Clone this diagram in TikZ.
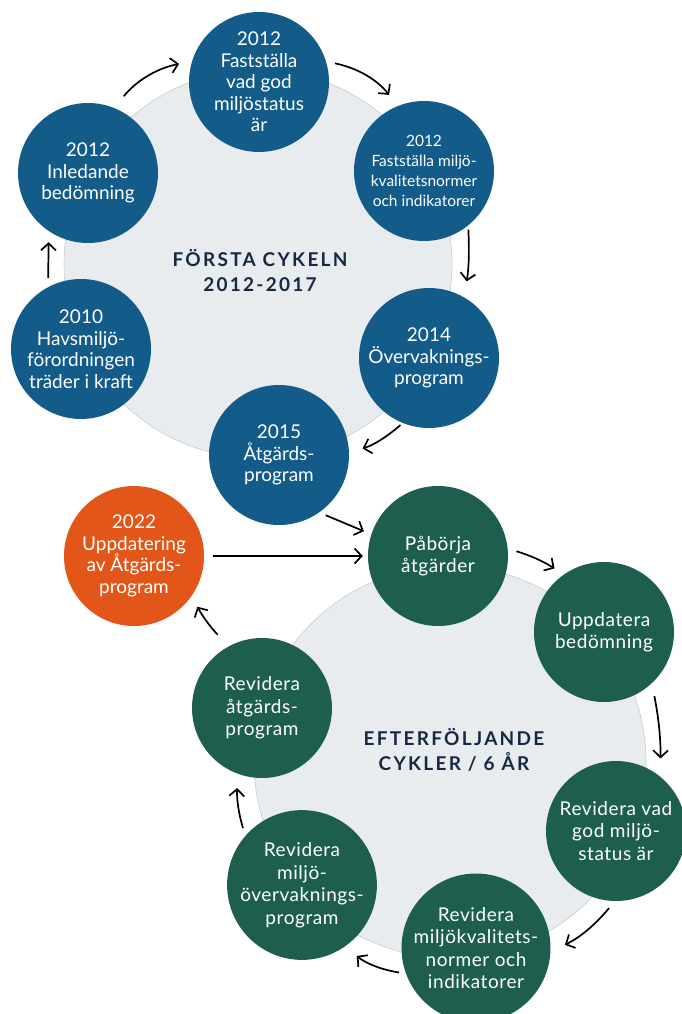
\documentclass[tikz,border=0pt]{standalone}
\usepackage{fontspec}
\setmainfont{Lato}
\usepackage{tikz}
\usetikzlibrary{
    arrows.meta,
    positioning
}
\definecolor{stageblue}{RGB}{19,91,137}
\definecolor{stagegreen}{RGB}{30,94,78}
\definecolor{stageorange}{RGB}{226,86,26}
\definecolor{discgray}{RGB}{233,236,238}
\definecolor{discline}{RGB}{200,204,207}
\definecolor{titlenavy}{RGB}{22,40,66}
\tikzset{
    line/.style = {
        line width = 1.7pt,
        -{Straight Barb[length=7pt, width=15pt]},
        shorten < = 9pt,
        shorten > = 11pt
    },
    % Grey disc behind a cycle:
    cycle disc/.style = {
        fill = discgray,
        draw = discline,
        line width = 0.6pt
    },
    % Stage of a cycle:
    stage node/.style = {
        circle,
        minimum size = 140pt,
        inner sep = 0pt,
        align = center,
        text = white,
        font = \fontsize{19}{21.5}\selectfont
    },
    % First cycle:
    first stage/.style = {
        stage node,
        fill = stageblue
    },
    % Following cycles:
    next stage/.style = {
        stage node,
        fill = stagegreen,
        font = \fontsize{19}{22.5}\selectfont\addfontfeatures{LetterSpace=3}
    },
    % Update:
    update stage/.style = {
        stage node,
        fill = stageorange
    },
    cycle title/.style = {
        align = center,
        text = titlenavy,
        font = \fontsize{19}{25}\selectfont\bfseries\addfontfeatures{LetterSpace=12}
    }
}

\begin{document}
\begin{tikzpicture}[x=1pt, y=1pt]
    \useasboundingbox (0, 0) rectangle (681, -1014);
    \filldraw [cycle disc] (258, -264) circle [radius=194pt];
    \filldraw [cycle disc] (450, -762) circle [radius=196pt];
    \node [cycle title] (first title) at (260, -271) {FÖRSTA CYKELN\\2012-2017};
    \node [cycle title] (next title) at (454, -750) {EFTERFÖLJANDE\\CYKLER / 6 ÅR};

    \node [first stage] (havsmiljo) at (81, -349) {2010\\Havsmiljö-\\förordningen\\träder i kraft};
    \node [first stage] (inledande) at (88, -173) {2012\\Inledande\\bedömning};
    \node [first stage] (godstatus) at (259, -82) {2012\\Fastställa\\vad god\\miljöstatus\\är};
    \node [first stage, font=\fontsize{15.5}{20}\selectfont] (normer) at (424, -171) {2012\\Fastställa miljö-\\kvalitetsnormer\\och indikatorer};
    \node [first stage] (overvakning) at (429, -358) {2014\\Övervaknings-\\program};
    \node [first stage] (atgard) at (279, -455) {2015\\Åtgärds-\\program};

    \node [update stage] (uppdatering) at (134, -556) {2022\\Uppdatering\\av Åtgärds-\\program};
    \node [next stage] (paborja) at (438, -556) {Påbörja\\åtgärder};
    \node [next stage] (bedomning) at (604, -632) {Uppdatera\\bedömning};
    \node [next stage] (revstatus) at (616, -831) {Revidera vad\\god miljö-\\status är};
    \node [next stage] (revnormer) at (476, -948) {Revidera\\miljökvalitets-\\normer och\\indikatorer};
    \node [next stage] (revmiljo) at (302, -885) {Revidera\\miljö-\\övervaknings-\\program};
    \node [next stage] (revatgard) at (262, -708) {Revidera\\åtgärds-\\program};

    \draw [line] (havsmiljo.118) -- (inledande.236);
    \draw [line, shorten <=15pt, shorten >=13pt] (inledande.68) to [bend left=20] (godstatus.163);
    \draw [line, shorten >=14pt] (godstatus.17) to [bend left=20] (normer.112);
    \draw [line, shorten <=4pt, shorten >=16pt] (normer.-51) to [bend left=6] (overvakning.60);
    \draw [line, shorten <=3pt, shorten >=14pt] (overvakning.248) to [bend left=12] (atgard.2);
    \draw [line, shorten <=7pt, shorten >=8pt] (atgard.-55) -- (paborja.162);
    \draw [line, shorten >=5pt] (uppdatering.0) -- (paborja.180);
    \draw [line] (paborja.6) to [bend left=8] (bedomning.125);
    \draw [line, shorten <=13pt, shorten >=18pt] (bedomning.-47) to [bend left=6] (revstatus.51);
    \draw [line, shorten >=16pt] (revstatus.269) to [bend left=12] (revnormer.-3);
    \draw [line, shorten <=7pt, shorten >=15pt] (revnormer.200) to [bend left=15] (revmiljo.305);
    \draw [line, shorten <=8pt, shorten >=14pt] (revmiljo.139) to [bend left=10] (revatgard.250);
    \draw [line, shorten <=16pt, shorten >=12pt] (revatgard.118) to [bend left=8] (uppdatering.325);
\end{tikzpicture}
\end{document}
